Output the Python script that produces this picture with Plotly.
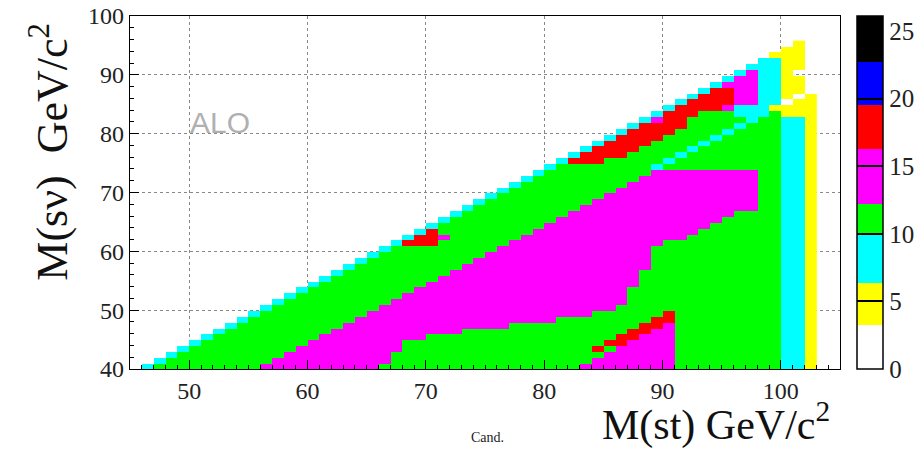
import numpy as np
import plotly.graph_objects as go

# ---- data ----
# x bins: [c, c+1] GeV; y rows r cover [r-0.2, r+0.8]
x_bins = list(range(46, 103))
y_rows = list(range(40, 96))

# run-length description of each column, bottom->top: <colour code><top row>
runs_left = [
    "C40", "G40 C41", "G41 C42", "G42 C43", "G43 C44", "G44 C45", "G45 C46",
    "G46 C47", "G47 C48", "G48 C49",
    "M40 G49 C50", "M41 G50 C51", "M42 G51 C52", "M43 G52 C53", "M44 G53 C54",
    "M45 G54 C55", "M46 G55 C56", "M47 G56 C57", "M48 G57 C58", "M49 G58 C59",
]
runs_mid = [
    "G40 M50 G59 C60", "G42 M51 G60 C61", "G44 M52 G60 R61 C62",
    "G44 M53 G60 R62 C63", "G45 M54 G60 R63 C64", "G45 M55 G61 M62 G64 C65",
    "G45 M56 G65 C66", "G46 M57 G66 C67", "G46 M58 G67 C68", "G46 M59 G68 C69",
    "G46 M60 G69 C70", "G47 M61 G70 C71", "G47 M62 G71 C72", "G47 M63 G72 C73",
    "G47 M64 G73 C74", "G48 M65 G74 C75", "G48 M66 G74 R75 C76",
    "M40 G48 M67 G74 R76 C77",
]
runs_right = [
    "M41 G42 R43 G49 M68 G74 R77 C78",
    "M42 G43 R44 G49 M69 G75 R78 C79",
    "M43 R45 G50 M70 G75 R79 C80",
    "M44 R46 G53 M71 G76 R80 C81",
    "M45 R47 G56 M72 G77 R81 C82",
    "M46 R48 G60 M73 C74 G78 R81 M82 C83",
    "M47 R49 G61 M73 G74 C75 G79 R83 C84",
    "G61 M73 G75 C76 G80 R84 C85",
    "G62 M73 G76 C77 G82 R85 C86",
    "G63 M73 G77 C78 G83 R86 C87",
    "G64 M73 G78 C79 G83 R87 C88",
    "G65 M73 G79 C80 G83 M84 R87 M88 C89",
    "G66 M73 G80 C81 G82 C84 M89 C90",
    "G66 M73 G81 C84 M90 C91",
    "G82 C92",
    "G83 Y84 C92 Y93",
    "C82 Y84 W85 Y94",
    "C82 Y85 W86 Y89 W90 Y95",
    "Y86",
]
level_values = {"W": None, "Y": 4.8, "C": 8.2, "G": 11.1, "M": 14.2, "R": 17.9}

z_max = 26.1
cbar_tickvals = [0, 5, 10, 15, 20, 25]
cbar_ticktext = ["0", "5", "10", "15", "20", "25"]
x_tickvals = [50, 60, 70, 80, 90, 100]
y_tickvals = [40, 50, 60, 70, 80, 90, 100]

# ---- build the matrix ----
all_runs = runs_left + runs_mid + runs_right
z = np.full((len(y_rows), len(x_bins)), np.nan)
for j, col in enumerate(all_runs):
    start = y_rows[0]
    for tok in col.split():
        code, top = tok[0], int(tok[1:])
        val = level_values[code]
        for r in range(start, top + 1):
            z[r - y_rows[0], j] = np.nan if val is None else val
        start = top + 1

x_centers = [c + 0.5 for c in x_bins]
y_centers = [r + 0.3 for r in y_rows]

bounds = [0, 0.124, 0.244, 0.382, 0.468, 0.623, 0.748, 0.869, 1.0]
cols = ["#ffffff", "#ffff00", "#00ffff", "#00ff00", "#ff00ff", "#ff0000", "#0000ff", "#000000"]
colorscale = []
for i, c in enumerate(cols):
    colorscale.append([bounds[i], c])
    colorscale.append([bounds[i + 1], c])

serif = "Liberation Serif, Times New Roman, serif"

fig = go.Figure(go.Heatmap(
    x=x_centers, y=y_centers, z=z,
    zmin=0, zmax=z_max, colorscale=colorscale, zsmooth=False,
    hoverongaps=False,
    colorbar=dict(
        x=1.024, xanchor="left", y=0, yanchor="bottom", len=1, lenmode="fraction",
        thickness=26, thicknessmode="pixels",
        outlinecolor="black", outlinewidth=1.5,
        tickvals=cbar_tickvals, ticktext=cbar_ticktext,
        ticks="inside", ticklen=26, tickcolor="black", tickwidth=1.5,
        tickfont=dict(family=serif, size=25, color="#222"),
        ypad=0, xpad=0,
    ),
))

axis_common = dict(
    showline=True, mirror=True, linecolor="black", linewidth=1.2,
    ticks="inside", tickcolor="black", ticklen=9,
    showgrid=True, gridcolor="#888888", griddash="dot", gridwidth=1,
    zeroline=False, layer="above traces",
    tickfont=dict(family=serif, size=24, color="#222"),
)

fig.update_xaxes(range=[45, 105], tickvals=x_tickvals,
                 minor=dict(dtick=1, ticks="inside", ticklen=4, tickcolor="black", showgrid=False),
                 **axis_common)
fig.update_yaxes(range=[40, 100], tickvals=y_tickvals,
                 minor=dict(dtick=2, ticks="inside", ticklen=4, tickcolor="black", showgrid=False),
                 **axis_common)

fig.update_layout(
    width=916, height=451,
    margin=dict(l=130, r=76, t=16, b=82, autoexpand=False),
    paper_bgcolor="white", plot_bgcolor="white",
    showlegend=False,
    annotations=[
        dict(text="M(sν)  GeV/c<sup>2</sup>", xref="paper", yref="paper",
             x=-0.113, y=0.615, textangle=-90, showarrow=False,
             xanchor="center", yanchor="middle",
             font=dict(family=serif, size=44, color="#111")),
        dict(text="M(st) GeV/c<sup>2</sup>", xref="paper", yref="paper",
             x=0.826, y=-0.23, showarrow=False, xanchor="center", yanchor="bottom",
             borderpad=0,
             font=dict(family=serif, size=42, color="#111")),
        dict(text="Cand.", xref="paper", yref="paper",
             x=0.503, y=-0.193, showarrow=False, xanchor="center", yanchor="middle",
             font=dict(family=serif, size=14, color="#222")),
        dict(text="ALO", xref="x", yref="y", x=52.6, y=81.9, showarrow=False,
             xanchor="center", yanchor="middle",
             font=dict(family="Liberation Sans, Arial, sans-serif", size=30, color="#b0b0b0")),
    ],
)

fig.write_html("out.html")
